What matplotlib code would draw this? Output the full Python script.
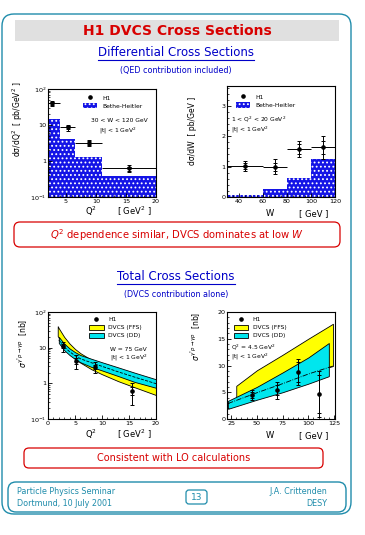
import numpy as np
import matplotlib
matplotlib.use("Agg")
import matplotlib.pyplot as plt
from matplotlib.patches import FancyBboxPatch, Patch
from matplotlib.lines import Line2D
from matplotlib.ticker import AutoMinorLocator, LogLocator, NullFormatter

# ------------------ values ------------------ #
# dsigma/dQ2, 30 < W < 120 GeV
q2_edges = [2, 4, 6.5, 11, 20]
bh_dsdq2 = [15, 4.2, 1.3, 0.38]
h1_q2 = [2.75, 5.25, 8.75, 15.5]
h1_dsdq2 = [40, 8.6, 3.2, 0.62]
h1_dsdq2_tot = [7, 1.6, 0.6, 0.14]
h1_dsdq2_stat = [3.5, 0.9, 0.35, 0.08]

# dsigma/dW, 2 < Q2 < 20 GeV2
w_edges = [30, 60, 80, 100, 120]
bh_dsdw = [0.05, 0.27, 0.63, 1.24]
h1_w = [45, 70, 90, 110]
h1_dsdw = [1.03, 1.0, 1.58, 1.63]
h1_dsdw_tot = [0.17, 0.25, 0.27, 0.37]
h1_dsdw_stat = [0.1, 0.13, 0.15, 0.2]

# sigma(gamma* p -> gamma p) vs Q2, W = 75 GeV
sig_q2 = [2.75, 5.25, 8.75, 15.5]
sig_q2_val = [11, 4.3, 2.9, 0.62]
sig_q2_tot = [3.5, 1.8, 1.0, 0.38]
sig_q2_stat = [1.5, 0.8, 0.4, 0.15]
ffs_q2 = [1.8, 2, 3, 4, 5, 6, 8, 10, 13, 16, 20]
ffs_q2_hi = [40, 35, 20, 13, 9.2, 7.0, 4.6, 3.3, 2.1, 1.4, 0.8]
ffs_q2_lo = [21, 19, 10.5, 6.8, 4.9, 3.8, 2.5, 1.8, 1.15, 0.78, 0.47]
dd_q2 = [2, 3, 4, 5, 6, 8, 10, 13, 16, 20]
dd_q2_hi = [20, 13, 9.5, 7.5, 6.2, 4.9, 3.9, 2.8, 2.0, 1.3]
dd_q2_lo = [13.5, 8.5, 6.2, 4.8, 3.9, 2.9, 2.3, 1.6, 1.1, 0.75]
dd_q2_mid = [16.5, 10.5, 7.7, 6.0, 4.9, 3.8, 3.0, 2.1, 1.5, 0.98]

# sigma(gamma* p -> gamma p) vs W, Q2 = 4.5 GeV2
sig_w = [45, 70, 90, 110]
sig_w_val = [4.5, 5.4, 8.8, 4.7]
sig_w_tot = [0.9, 1.6, 2.5, 4.3]
sig_w_stat = [0.5, 1.0, 1.8, 3.5]
ffs_w = [30, 50, 75, 100, 124]
ffs_w_hi = [6.2, 9.1, 12.0, 15.0, 17.8]
ffs_w_lo = [4.0, 5.5, 7.0, 8.6, 9.9]
dd_w = [22, 50, 75, 100, 120]
dd_w_hi = [3.4, 6.0, 8.7, 11.5, 14.2]
dd_w_lo = [1.9, 3.6, 5.0, 6.6, 8.0]
dash_w = [22, 50, 75, 100, 124]
dash_w_val = [2.9, 4.9, 6.6, 8.4, 9.9]

log_ticks = [0.1, 1, 10, 100]
log_labels = ["10$^{-1}$", "1", "10", "10$^{2}$"]

# ------------------ colours ------------------ #
TEAL = "#1f8cab"
RED = "#d80000"
BLUE = "#0000c8"
BH_BLUE = "#1414e6"
YELLOW = "#ffff00"
CYAN = "#00e6ee"

plt.rcParams["font.family"] = ["DejaVu Sans"]
plt.rcParams["mathtext.fontset"] = "dejavusans"
plt.rcParams["hatch.linewidth"] = 0.8

W, H = 365, 535
fig = plt.figure(figsize=(W / 100, H / 100), dpi=100)

# background axes in pixel coordinates
bg = fig.add_axes([0, 0, 1, 1])
bg.set_xlim(0, W)
bg.set_ylim(H, 0)
bg.axis("off")


def rbox(x0, y0, x1, y1, color, lw=1.0, r=8, fc="none"):
    bg.add_patch(FancyBboxPatch((x0, y0), x1 - x0, y1 - y0,
                                boxstyle=f"round,pad=0,rounding_size={r}",
                                ec=color, fc=fc, lw=lw))


def underlined(x, y, s, **kw):
    t = bg.text(x, y, s, ha="center", va="center", **kw)
    fig.canvas.draw()
    bb = t.get_window_extent().transformed(bg.transData.inverted())
    bg.plot([bb.x0, bb.x1], [max(bb.y0, bb.y1) + 1, max(bb.y0, bb.y1) + 1],
            color=kw.get("color", "k"), lw=0.8)


# frames and headings
rbox(2, 14, 351, 514, TEAL, lw=1.0, r=12)
bg.add_patch(plt.Rectangle((15, 20), 324, 21, color="#e0e0e0", lw=0))
bg.text(177, 31, "H1 DVCS Cross Sections", color=RED, fontsize=10,
        fontweight="bold", ha="center", va="center")
underlined(176, 52, "Differential Cross Sections", color=BLUE, fontsize=8.5)
bg.text(176, 70, "(QED contribution included)", color=BLUE, fontsize=5.8,
        ha="center", va="center")

rbox(14, 222, 340, 247, RED, lw=0.9, r=6)
bg.text(177, 235, r"$\mathit{Q}^2$ dependence similar, DVCS dominates at low $\mathit{W}$",
        color=RED, fontsize=7.2, ha="center", va="center")

underlined(176, 276, "Total Cross Sections", color=BLUE, fontsize=8.5)
bg.text(176, 294, "(DVCS contribution alone)", color=BLUE, fontsize=5.8,
        ha="center", va="center")

rbox(24, 448, 323, 468, RED, lw=0.9, r=5)
bg.text(174, 458, "Consistent with LO calculations", color=RED, fontsize=7,
        ha="center", va="center")

rbox(8, 482, 346, 512, TEAL, lw=1.0, r=8)
bg.text(17, 491, "Particle Physics Seminar", color=TEAL, fontsize=5.8, va="center")
bg.text(17, 503, "Dortmund, 10 July 2001", color=TEAL, fontsize=5.8, va="center")
bg.text(327, 491, "J.A. Crittenden", color=TEAL, fontsize=5.8, va="center", ha="right")
bg.text(327, 503, "DESY", color=TEAL, fontsize=5.8, va="center", ha="right")
rbox(186, 490, 207, 504, TEAL, lw=0.9, r=3)
bg.text(196.5, 497, "13", color=TEAL, fontsize=6.5, ha="center", va="center")


def px_axes(x0, y0, x1, y1):
    return fig.add_axes([x0 / W, 1 - y1 / H, (x1 - x0) / W, (y1 - y0) / H])


def style(ax):
    ax.tick_params(which="major", direction="in", labelsize=4.6, length=3,
                   width=0.6, pad=1.2, top=False, right=False)
    ax.tick_params(which="minor", direction="in", length=1.5, width=0.5,
                   top=False, right=False)
    for s in ax.spines.values():
        s.set_linewidth(0.8)


def log_style(ax, lo, hi):
    ax.set_yscale("log")
    ax.set_ylim(lo, hi)
    ax.set_yticks(log_ticks, log_labels)
    ax.yaxis.set_minor_locator(LogLocator(base=10, subs=np.arange(2, 10)))
    ax.yaxis.set_minor_formatter(NullFormatter())


def xlabels(ax, left, right, y):
    ax.text(0.40, y, left, transform=ax.transAxes, ha="center", va="top", fontsize=6)
    ax.text(0.80, y, right, transform=ax.transAxes, ha="center", va="top", fontsize=6)


def h1_points(ax, x, y, tot, stat, xerr=None):
    if xerr is not None:
        ax.errorbar(x, y, xerr=xerr, fmt="none", ecolor="k", elinewidth=0.7, capsize=0)
    ax.errorbar(x, y, yerr=tot, fmt="o", ms=2.3, color="k", elinewidth=0.7,
                capsize=1.5, capthick=0.7)
    ax.errorbar(x, y, yerr=stat, fmt="none", ecolor="k", elinewidth=0.7,
                capsize=1.5, capthick=0.7)


h1_handle = Line2D([], [], ls="none", marker="o", ms=2.3, color="k")
bh_handle = Patch(fc=BH_BLUE, ec="white", hatch="....", lw=0)
ffs_handle = Patch(fc=YELLOW, ec="k", lw=0.6)
dd_handle = Patch(fc=CYAN, ec="k", lw=0.6)
leg_kw = dict(frameon=False, fontsize=4.3, handlelength=2.4, handleheight=1.1,
              labelspacing=0.35, handletextpad=0.8, borderaxespad=0)

# ---------- top left: dsigma/dQ2 ----------
ax1 = px_axes(48, 89, 156, 197)
style(ax1)
ax1.bar(q2_edges[:-1], bh_dsdq2, width=np.diff(q2_edges), align="edge",
        color=BH_BLUE, ec="white", hatch="....", lw=0)
q2_lo = np.array(h1_q2) - np.array(q2_edges[:-1])
q2_hi = np.array(q2_edges[1:]) - np.array(h1_q2)
h1_points(ax1, h1_q2, h1_dsdq2, h1_dsdq2_tot, h1_dsdq2_stat, xerr=[q2_lo, q2_hi])
ax1.set_xlim(2, 20)
log_style(ax1, 0.1, 100)
ax1.set_xticks([5, 10, 15, 20])
ax1.xaxis.set_minor_locator(AutoMinorLocator(5))
ax1.legend([h1_handle, bh_handle], ["H1", "Bethe-Heitler"], loc="upper left",
           bbox_to_anchor=(0.30, 0.97), **leg_kw)
ax1.text(0.66, 0.69, "30 < W < 120 GeV", transform=ax1.transAxes, fontsize=4.3, ha="center")
ax1.text(0.65, 0.60, "|t| < 1 GeV$^2$", transform=ax1.transAxes, fontsize=4.3, ha="center")
ax1.set_ylabel("d\u03c3/dQ$^2$  [ pb/GeV$^2$ ]", fontsize=5.5)
ax1.yaxis.set_label_coords(-0.21, 0.72)
xlabels(ax1, "Q$^2$", "[ GeV$^2$ ]", -0.075)

# ---------- top right: dsigma/dW ----------
ax2 = px_axes(227, 86, 335, 197)
style(ax2)
ax2.bar(w_edges[:-1], bh_dsdw, width=np.diff(w_edges), align="edge",
        color=BH_BLUE, ec="white", hatch="....", lw=0)
w_lo = np.array(h1_w) - np.array(w_edges[:-1])
w_hi = np.array(w_edges[1:]) - np.array(h1_w)
h1_points(ax2, h1_w, h1_dsdw, h1_dsdw_tot, h1_dsdw_stat, xerr=[w_lo, w_hi])
ax2.set_xlim(30, 120)
ax2.set_ylim(0, 3.65)
ax2.set_xticks([40, 60, 80, 100, 120])
ax2.set_yticks([0, 1, 2, 3])
ax2.xaxis.set_minor_locator(AutoMinorLocator(4))
ax2.yaxis.set_minor_locator(AutoMinorLocator(5))
ax2.legend([h1_handle, bh_handle], ["H1", "Bethe-Heitler"], loc="upper left",
           bbox_to_anchor=(0.06, 0.95), **leg_kw)
ax2.text(0.04, 0.68, "1 < Q$^2$ < 20 GeV$^2$", transform=ax2.transAxes, fontsize=4.3)
ax2.text(0.04, 0.59, "|t| < 1 GeV$^2$", transform=ax2.transAxes, fontsize=4.3)
ax2.set_ylabel("d\u03c3/dW  [ pb/GeV ]", fontsize=5.5)
ax2.yaxis.set_label_coords(-0.28, 0.6)
xlabels(ax2, "W", "[ GeV ]", -0.11)

# ---------- bottom left: sigma vs Q2 ----------
ax3 = px_axes(48, 312, 156, 419)
style(ax3)
ax3.fill_between(ffs_q2, ffs_q2_lo, ffs_q2_hi, fc=YELLOW, ec="k", lw=0.6)
ax3.fill_between(dd_q2, dd_q2_lo, dd_q2_hi, fc=CYAN, ec="k", lw=0.6)
ax3.plot(dd_q2, dd_q2_mid, "k--", lw=0.6)
h1_points(ax3, sig_q2, sig_q2_val, sig_q2_tot, sig_q2_stat)
ax3.set_xlim(0, 20)
log_style(ax3, 0.1, 45)
ax3.set_xticks([0, 5, 10, 15, 20])
ax3.xaxis.set_minor_locator(AutoMinorLocator(5))
ax3.legend([h1_handle, ffs_handle, dd_handle], ["H1", "DVCS (FFS)", "DVCS (DD)"],
           loc="upper left", bbox_to_anchor=(0.36, 0.98), **leg_kw)
ax3.text(0.57, 0.64, "W = 75 GeV", transform=ax3.transAxes, fontsize=4.3)
ax3.text(0.57, 0.56, "|t| < 1 GeV$^2$", transform=ax3.transAxes, fontsize=4.3)
ax3.set_ylabel(r"$\sigma^{\gamma^{*}p\rightarrow\gamma p}$  [nb]", fontsize=5.5)
ax3.yaxis.set_label_coords(-0.17, 0.71)
xlabels(ax3, "Q$^2$", "[ GeV$^2$ ]", -0.085)

# ---------- bottom right: sigma vs W ----------
ax4 = px_axes(227, 312, 335, 419)
style(ax4)
ax4.fill_between(ffs_w, ffs_w_lo, ffs_w_hi, fc=YELLOW, ec="k", lw=0.6)
ax4.fill_between(dd_w, dd_w_lo, dd_w_hi, fc=CYAN, ec="k", lw=0.6)
ax4.plot(dash_w, dash_w_val, "k-.", lw=0.6)
h1_points(ax4, sig_w, sig_w_val, sig_w_tot, sig_w_stat)
ax4.set_xlim(21, 126)
ax4.set_ylim(0, 20)
ax4.set_xticks([25, 50, 75, 100, 125])
ax4.set_yticks([0, 5, 10, 15, 20])
ax4.xaxis.set_minor_locator(AutoMinorLocator(5))
ax4.yaxis.set_minor_locator(AutoMinorLocator(5))
ax4.legend([h1_handle, ffs_handle, dd_handle], ["H1", "DVCS (FFS)", "DVCS (DD)"],
           loc="upper left", bbox_to_anchor=(0.04, 0.98), **leg_kw)
ax4.text(0.04, 0.65, "Q$^2$ = 4.5 GeV$^2$", transform=ax4.transAxes, fontsize=4.3)
ax4.text(0.04, 0.57, "|t| < 1 GeV$^2$", transform=ax4.transAxes, fontsize=4.3)
ax4.set_ylabel(r"$\sigma^{\gamma^{*}p\rightarrow\gamma p}$  [nb]", fontsize=5.5)
ax4.yaxis.set_label_coords(-0.22, 0.77)
xlabels(ax4, "W", "[ GeV ]", -0.11)

fig.savefig("out.png", dpi=100)
